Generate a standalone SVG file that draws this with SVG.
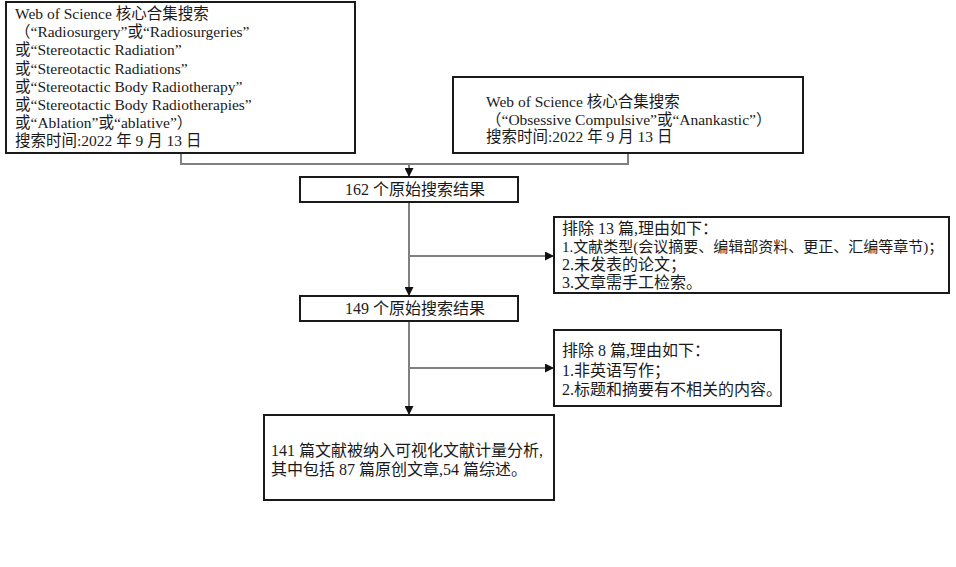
<svg xmlns="http://www.w3.org/2000/svg" width="956" height="567" viewBox="0 0 956 567">
<defs>
<style>
.box{fill:#fff;stroke:#1a1a1a;stroke-width:2}
.con{fill:none;stroke:#808080;stroke-width:2}
text{font-family:"Liberation Serif","Noto Sans CJK SC",serif;fill:#1a1a1a}
.t1{font-size:15.5px}
.t2{font-size:16px}
.t3{font-size:16px}
.sm{font-size:15px}
</style>
<marker id="ah" viewBox="0 0 10 10" refX="10" refY="5" markerWidth="9" markerHeight="9" markerUnits="userSpaceOnUse" orient="auto">
<path d="M0,0 L10,5 L0,10 Z" fill="#111"/>
</marker>
</defs>
<rect width="956" height="567" fill="#fff"/>
<g id="connectors">
<path class="con" d="M181,153 V164 H628 V153"/>
<path class="con" d="M409,164 V177" marker-end="url(#ah)"/>
<path class="con" d="M409,202 V296" marker-end="url(#ah)"/>
<path class="con" d="M409,256 H554" marker-end="url(#ah)"/>
<path class="con" d="M409,321 V415" marker-end="url(#ah)"/>
<path class="con" d="M409,368 H554" marker-end="url(#ah)"/>
</g>
<g id="search1">
<rect class="box" x="6" y="2" width="349" height="151"/>
<text class="t1">
<tspan x="15" y="19">Web of Science 核心合集搜索</tspan>
<tspan x="15" y="37.2">（“Radiosurgery”或“Radiosurgeries”</tspan>
<tspan x="15" y="55.4">或“Stereotactic Radiation”</tspan>
<tspan x="15" y="73.6">或“Stereotactic Radiations”</tspan>
<tspan x="15" y="91.8">或“Stereotactic Body Radiotherapy”</tspan>
<tspan x="15" y="110">或“Stereotactic Body Radiotherapies”</tspan>
<tspan x="15" y="128.2">或“Ablation”或“ablative”）</tspan>
<tspan x="15" y="146.4">搜索时间:2022 年 9 月 13 日</tspan>
</text>
</g>
<g id="search2">
<rect class="box" x="453" y="77" width="350" height="76"/>
<text class="t1">
<tspan x="486" y="107">Web of Science 核心合集搜索</tspan>
<tspan x="486" y="124.5">（“Obsessive Compulsive”或“Anankastic”）</tspan>
<tspan x="486" y="142">搜索时间:2022 年 9 月 13 日</tspan>
</text>
</g>
<g id="result162">
<rect class="box" x="300" y="177" width="218" height="25"/>
<text class="t3" x="345" y="195">162 个原始搜索结果</text>
</g>
<g id="exclude13">
<rect class="box" x="554" y="217" width="395" height="76"/>
<text class="t2">
<tspan x="562" y="234">排除 13 篇,理由如下：</tspan>
<tspan x="562" y="252" class="sm">1.文献类型(会议摘要、编辑部资料、更正、汇编等章节)；</tspan>
<tspan x="562" y="270">2.未发表的论文；</tspan>
<tspan x="562" y="288">3.文章需手工检索。</tspan>
</text>
</g>
<g id="result149">
<rect class="box" x="300" y="296" width="218" height="25"/>
<text class="t3" x="345" y="314">149 个原始搜索结果</text>
</g>
<g id="exclude8">
<rect class="box" x="554" y="330" width="227" height="76"/>
<text class="t2">
<tspan x="562" y="356">排除 8 篇,理由如下：</tspan>
<tspan x="562" y="375.5">1.非英语写作；</tspan>
<tspan x="562" y="395">2.标题和摘要有不相关的内容。</tspan>
</text>
</g>
<g id="final">
<rect class="box" x="264" y="415" width="290" height="85"/>
<text class="t3">
<tspan x="271" y="456">141 篇文献被纳入可视化文献计量分析,</tspan>
<tspan x="271" y="475">其中包括 87 篇原创文章,54 篇综述。</tspan>
</text>
</g>
</svg>
